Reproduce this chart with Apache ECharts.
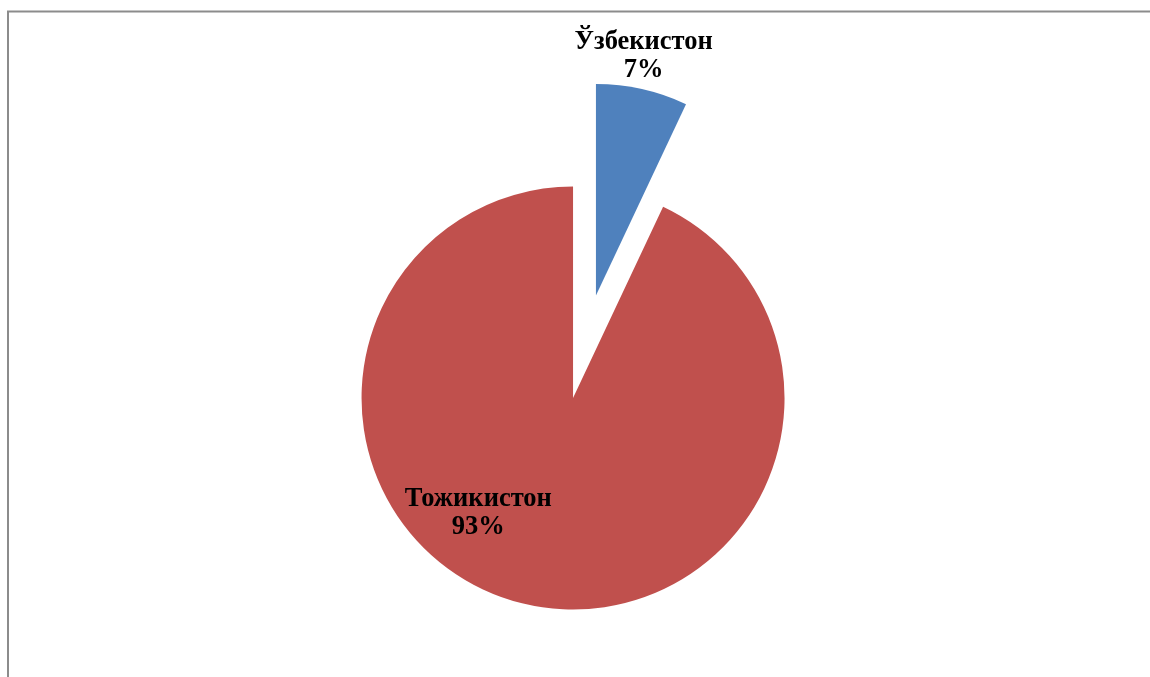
<!DOCTYPE html>
<html><head><meta charset="utf-8">
<script src="https://cdn.jsdelivr.net/npm/echarts@6/dist/echarts.min.js"></script>
<style>html,body{margin:0;padding:0;background:#fff}#c{width:1150px;height:677px}</style>
</head><body><div id="c"></div>
<script>
const categories = ['Ўзбекистон', 'Тожикистон'];
const values = [7, 93];
const colors = ['#4F81BD', '#C0504D'];
const labelShift = [[24, -133], [-71, 9]];

const chart = echarts.init(document.getElementById('c'));
chart.setOption({
  animation: false,
  backgroundColor: '#fff',
  graphic: [{
    type: 'rect', silent: true,
    shape: { x: 8, y: 11.5, width: 3000, height: 3000 },
    style: { fill: 'none', stroke: '#8c8c8c', lineWidth: 2 }
  }],
  series: [{
    type: 'pie',
    center: ['49.83%', '58.8%'],
    radius: 211.5,
    startAngle: 90,
    clockwise: true,
    selectedMode: 'single',
    selectedOffset: 105,
    avoidLabelOverlap: false,
    label: {
      show: true, position: 'inside',
      formatter: p => p.name + '\n' + Math.round(p.percent) + '%',
      fontFamily: '"Liberation Serif", "Times New Roman", serif',
      fontWeight: 'bold', fontSize: 26.5, lineHeight: 28, color: '#000', align: 'center'
    },
    labelLine: { show: false },
    labelLayout: p => ({ dx: labelShift[p.dataIndex][0], dy: labelShift[p.dataIndex][1] }),
    emphasis: { disabled: true },
    data: categories.map((n, i) => ({
      name: n, value: values[i], selected: i === 0,
      itemStyle: { color: colors[i] }
    }))
  }]
});
</script></body></html>
